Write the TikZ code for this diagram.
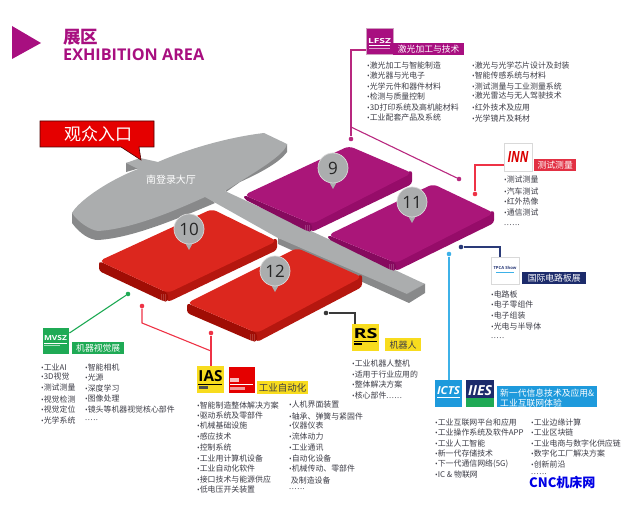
\documentclass[tikz,border=0pt]{standalone}
\usepackage{fontspec}
\usepackage{graphicx}
\setmainfont{Noto Sans CJK SC}
\newfontfamily\latinf{Open Sans}
\usetikzlibrary{calc}
\definecolor{mag}{HTML}{A80F80}
\definecolor{pur}{HTML}{AA1679}
\definecolor{purL}{HTML}{860A5E}
\definecolor{purR}{HTML}{960C69}
\definecolor{redT}{HTML}{DC271E}
\definecolor{redL}{HTML}{A00D05}
\definecolor{redR}{HTML}{B5170F}
\definecolor{grayT}{HTML}{ABADAE}
\definecolor{grayS}{HTML}{88898A}
\definecolor{txt}{HTML}{3C3C46}
\definecolor{conPur}{HTML}{B8287F}
\definecolor{conRed}{HTML}{EE3346}
\definecolor{conNavy}{HTML}{2A3A78}
\definecolor{bandNavy}{HTML}{1C2B6B}
\definecolor{conBlue}{HTML}{3DB1E8}
\definecolor{bandBlue}{HTML}{1E9ADC}
\definecolor{conGreen}{HTML}{1FAA55}
\definecolor{conDark}{HTML}{3A3A3A}
\definecolor{yel}{HTML}{F8DC1E}
\tikzset{
  listitem/.style={anchor=west,inner sep=0pt,font=\fontsize{7.9}{9}\selectfont,text=txt},
  band/.style={anchor=north west,inner sep=0pt,minimum height=12pt},
  bandtxt/.style={font=\fontsize{8.8}{10}\selectfont,text=white,inner sep=0pt},
  logobox/.style={anchor=north west,inner sep=0pt,minimum width=26.5pt,minimum height=26.5pt},
  logotxt/.style={inner sep=0pt,font=\latinf\bfseries},
  dotp/.style={circle,inner sep=0pt,minimum size=4.6pt,fill=#1},
  con/.style={line width=1.1pt,draw=#1},
  pin/.style={circle,fill=grayT,draw=#1,line width=.7pt,minimum size=30pt,inner sep=0pt,text=black!85,font=\latinf\fontsize{17}{18}\selectfont}
}
\newcommand{\bul}{{\latinf\fontsize{7}{8}\selectfont •}}
\newcommand{\fivedots}{{\latinf .\kern.6pt.\kern.6pt.\kern.6pt.\kern.6pt.}}
\newcommand{\sixdots}{{\latinf .\kern.6pt.\kern.6pt.\kern.6pt.\kern.6pt.\kern.6pt.}}
\newcommand{\rows}[3]{\foreach \yy/\tx [count=\ii] in {#3}{\node[listitem] (#1-\ii) at (#2,\yy) {\tx};}}
\newcommand{\slab}[9]{%
  \path (#1) coordinate (L) (#2) coordinate (T) (#3) coordinate (R) (#4) coordinate (B);
  \fill[\slabR,rounded corners=3pt] ($(B)+(-6,-3)$) -- ($(B)+(0,#6)$) -- ($(R)+(0,#7)$) -- ($(R)+(0,-3)$) -- cycle;
  \fill[#9,rounded corners=3pt] ($(L)+(0,0)$) -- ($(L)+(0,#5)$) -- ($(B)+(-5,{#6-1})$) -- ($(B)+(0,#6)$) -- (B) -- cycle;
  \foreach \dx in {-7,-5,-3}{\draw[white,opacity=.18,line width=.5pt] ($(B)+(\dx,1)$) -- ($(B)+(\dx,{#6+.3*\dx})$);}
  \fill[#8,rounded corners=5pt] (L) -- (T) -- (R) -- (B) -- cycle;
}
\begin{document}
\begin{tikzpicture}[x=1pt,y=-1pt]
\useasboundingbox (0,0) rectangle (633,511);
% header
\fill[mag] (12,26) -- (41,43) -- (12,59) -- cycle;
\node[anchor=west,inner sep=0pt,text=mag,font=\bfseries\fontsize{17.5}{18}\selectfont] (hZh) at (63,37) {展区};
\node[anchor=west,inner sep=0pt,text=mag,font=\latinf\bfseries\fontsize{16.2}{17}\selectfont] (hEn) at (63,55) {EXHIBITION AREA};

% grey hall sides
\fill[grayS] (72,213) -- (72,223) .. controls (80,234) and (90,240) .. (98,240) .. controls (130,238) and (170,222) .. (215,203) -- (205,195) -- cycle;
\fill[grayS] (287,144) -- (287,152) .. controls (280,162) and (262,172) .. (240,182) -- (226,192) -- (225,180) -- cycle;
\fill[grayS] (126,163) -- (126,172) -- (140,168) -- (145,160) -- cycle;
% corridor side
\fill[grayS] (278,238) -- (278,244) -- (409,303) -- (425,293) -- (425,284) -- cycle;
% grey top face
\fill[grayT] (126,163) -- (140,158) -- (158,162) .. controls (190,148) and (230,137) .. (264,133) -- (287,144)
  .. controls (285,155) and (255,172) .. (225,191) -- (425,284) -- (407,294) -- (278,238) -- (205,197)
  .. controls (170,213) and (130,229) .. (98,231) .. controls (90,230) and (78,222) .. (72,213)
  .. controls (78,202) and (105,182) .. (138,169) -- cycle;
\draw[grayS,opacity=.5,line width=.4pt] (407,294) -- (425,284);

% blocks
\def\slabR{purR}
\slab{244,195}{349,146}{412,173}{312,224}{4}{8}{11}{pur}{purL}
\slab{328,235}{433,184}{494,213}{396,263}{4}{8}{10}{pur}{purL}
\def\slabR{redR}
\slab{99,261}{212,209}{277,241}{168,293}{10}{9}{9}{redT}{redL}
\slab{187,303}{297,248}{362,277}{257,333}{10}{9}{10}{redT}{redL}

% entrance label
\draw[draw=black!70!red,fill=red!90!black,line width=.6pt] (40,121) -- (154,121) -- (154,147) -- (139,147) -- (141,160) -- (121,147) -- (40,147) -- cycle;
\node[inner sep=0pt,text=white,font=\fontsize{17}{18}\selectfont] (entry) at (98,134) {观众入口};
\node[inner sep=0pt,text=white,font=\fontsize{10}{11}\selectfont] (hall) at (171,179.5) {南登录大厅};

% pins
\foreach \n/\x/\y/\tx in {p9/333/168/9,p11/412/202/11,p10/189/229/10,p12/275/271/12}{
  \fill[grayT] (\x-5,\y+12) -- (\x,\y+21) -- (\x+5,\y+12) -- cycle;
  \node[pin=white!85!black] (\n) at (\x,\y) {\tx};
}

% LFSZ
\node[logobox,fill=mag,draw=purL!40!white] (lfsz) at (366,28) {};
\node[logotxt,text=white] (lfszT) at (379.5,41) {\resizebox{23pt}{5pt}{LFSZ}};
\draw[white,line width=.7pt] (369,45.5) -- (390,45.5);
\draw[white,opacity=.6,line width=.5pt] (369,48.5) -- (390,48.5);
\node[band,fill=mag,minimum width=71pt,bandtxt] (lfszB) at (393,43) {激光加工与技术};
\rows{a}{367}{65/\bul{}激光加工与智能制造,75/\bul{}激光器与光电子,86/\bul{}光学元件和器件材料,96/\bul{}检测与质量控制,107/\bul{}3D打印系统及高机能材料,118/\bul{}工业配套产品及系统}
\rows{b}{472}{65/\bul{}激光与光学芯片设计及封装,75/\bul{}智能传感系统与材料,86/\bul{}测试测量与工业测量系统,96/\bul{}激光雷达与无人驾驶技术,107/\bul{}红外技术及应用,118/\bul{}光学镜片及耗材}
\node[dotp=conPur] (dA) at (351,139) {};
\node[dotp=conPur] (dB) at (459,179) {};
\coordinate (jA) at (351,127);
\draw[con=conPur] (lfsz.west |- 0,50) -- (351,50) -- (dA);
\draw[con=conPur] (jA) -- (dB);

% INN
\node[logobox,fill=white,draw=black!15,line width=1pt,minimum width=28pt,minimum height=28pt] (inn) at (504,143) {};
\node[logotxt,text=red!85!black,font=\latinf\bfseries\itshape] (innT) at (518,157) {\resizebox{21pt}{11pt}{INN}};
\node[band,fill=conRed!95!black,minimum width=42pt,bandtxt] (innB) at (534,159) {测试测量};
\rows{c}{504}{180/\bul{}测试测量,191/\bul{}汽车测试,202/\bul{}红外热像,213/\bul{}通信测试,225/\sixdots}
\node[dotp=conRed] (dC) at (475,194) {};
\draw[con=conRed] (inn.west |- 0,165) -- (475,165) -- (dC);

% TPCA
\node[logobox,fill=white,draw=black!15,line width=1pt,minimum width=28pt,minimum height=27pt] (tpca) at (491,257) {};
\node[logotxt,text=conNavy,font=\latinf\bfseries\fontsize{4.2}{5}\selectfont] (tpcaT) at (505,268) {TPCA Show};
\draw[conBlue,line width=.6pt] (496,272) -- (514,272);
\node[band,fill=bandNavy,minimum width=64pt,bandtxt] (tpcaB) at (522,272) {国际电路板展};
\rows{d}{491}{295/\bul{}电路板,305/\bul{}电子零组件,316/\bul{}电子组装,326/\bul{}光电与半导体,338/\fivedots}
\node[dotp=conNavy] (dD) at (461,247) {};
\draw[con=conNavy] (dD) -- (500,247) -- (tpca.north -| 500,0);

% ICTS / IIES
\node[logobox,fill=bandBlue,minimum width=27pt,minimum height=27pt] (icts) at (435,380) {};
\node[logotxt,text=white,font=\latinf\bfseries\itshape] (ictsT) at (448.5,391) {\resizebox{23pt}{8pt}{ICTS}};
\draw[white,line width=.6pt] (437,397) -- (460,397);
\node[logobox,fill=bandNavy,minimum width=28pt,minimum height=27pt] (iies) at (466,380) {};
\fill[conGreen] (466,398) rectangle (494,407);
\node[logotxt,text=white,font=\latinf\bfseries\itshape] (iiesT) at (480,391) {\resizebox{24pt}{10pt}{IIES}};
\node[band,fill=bandBlue,minimum width=100pt,minimum height=21pt] (icB) at (497,386) {};
\node[bandtxt,anchor=west] (icB1) at (500,393) {新一代信息技术及应用\&};
\node[bandtxt,anchor=west] (icB2) at (500,403) {工业互联网体验};
\rows{e}{435}{422/\bul{}工业互联网平台和应用,432/\bul{}工业操作系统及软件APP,443/\bul{}工业人工智能,453/\bul{}新一代存储技术,464/\bul{}下一代通信网络(5G),475/\bul{}IC \& 物联网}
\rows{f}{531}{422/\bul{}工业边缘计算,432/\bul{}工业区块链,443/\bul{}工业电商与数字化供应链,453/\bul{}数字化工厂解决方案,464/\bul{}创新前沿,474/\sixdots}
\node[dotp=conBlue] (dE) at (449,254) {};
\draw[con=conBlue,line width=1.2pt] (dE) -- (icts.north -| 449,0);
\node[anchor=west,inner sep=0pt,text=blue!90!black,font=\bfseries\fontsize{13}{14}\selectfont] (cnc) at (529,482) {CNC机床网};

% RS
\node[logobox,fill=yel,minimum width=27pt,minimum height=27pt] (rs) at (352,324) {};
\node[logotxt,text=black,font=\latinf\bfseries] (rsT) at (365.5,334) {\resizebox{24pt}{10pt}{RS}};
\draw[black,line width=.7pt] (354,341) -- (377,341);
\fill[black] (354,343) rectangle (362,345);
\node[band,fill=yel,minimum width=36pt,minimum height=13pt,font=\fontsize{9}{10}\selectfont,text=txt,inner sep=0pt] (rsB) at (385,338) {机器人};
\rows{g}{352}{363/\bul{}工业机器人整机,374/\bul{}适用于行业应用的,384/\bul{}整体解决方案,395/\bul{}核心部件\sixdots}
\node[dotp=conDark] (dF) at (326,313) {};
\draw[con=conDark] (dF) -- (355,313) -- (rs.north -| 355,0);

% IAS + red logo
\node[logobox,fill=yel,minimum width=27pt,minimum height=27pt] (ias) at (197,366) {};
\node[logotxt,text=black,font=\latinf\bfseries] (iasT) at (210.5,376.5) {\resizebox{24pt}{11pt}{IAS}};
\draw[black,line width=.7pt] (198,384) -- (222,384);
\fill[black!70] (199,386) rectangle (208,389);
\node[logobox,fill=red!90!black,draw=white,minimum width=27pt,minimum height=27pt] (rlogo) at (228,366) {};
\fill[white,opacity=.75] (230,378) rectangle (239,382);
\draw[white,line width=.6pt] (230,384) -- (253,384);
\fill[white,opacity=.6] (230,386.5) rectangle (245,389.5);
\node[band,fill=yel,minimum width=51pt,minimum height=13pt,font=\fontsize{9.5}{10}\selectfont,text=txt,inner sep=0pt] (iasB) at (257,381) {工业自动化};
\rows{h}{197}{405/\bul{}智能制造整体解决方案,416/\bul{}驱动系统及零部件,426/\bul{}机械基础设施,436/\bul{}感应技术,447/\bul{}控制系统,458/\bul{}工业用计算机设备,468/\bul{}工业自动化软件,479/\bul{}接口技术与能源供应,490/\bul{}低电压开关装置}
\rows{i}{289}{405/\bul{}人机界面装置,416/\bul{}轴承、弹簧与紧固件,426/\bul{}仪器仪表,437/\bul{}流体动力,448/\bul{}工业通讯,458/\bul{}自动化设备,469/\bul{}机械传动、零部件,480/\ 及制造设备,489/\sixdots}
\node[dotp=conRed] (dG) at (142,306) {};
\node[dotp=conRed] (dH) at (211,333) {};
\coordinate (jB) at (211,351);
\draw[con=conRed] (dG) -- (142,323) -- (jB);
\draw[con=conRed] (dH) -- (ias.north -| 211,0);

% MVSZ
\node[logobox,fill=conGreen,draw=white,minimum width=27pt,minimum height=27pt] (mvsz) at (42,327) {};
\node[logotxt,text=white] (mvszT) at (55.5,338.5) {\resizebox{23pt}{5pt}{MVSZ}};
\draw[white,line width=.6pt] (44,343) -- (67,343);
\draw[white,opacity=.6,line width=.6pt] (44,345.5) -- (60,345.5);
\node[band,fill=conGreen,minimum width=52pt,bandtxt] (mvszB) at (72,342) {机器视觉展};
\rows{j}{41}{367/\bul{}工业AI,377/\bul{}3D视觉,388/\bul{}测试测量,399/\bul{}视觉检测,409/\bul{}视觉定位,420/\bul{}光学系统}
\rows{k}{85}{367/\bul{}智能相机,377/\bul{}光源,388/\bul{}深度学习,399/\bul{}图像处理,409/\bul{}镜头等机器视觉核心部件,420/\fivedots}
\node[dotp=conGreen] (dJ) at (128,294) {};
\draw[con=conGreen] (dJ) -- (mvsz.east |- 0,333);
\end{tikzpicture}
\end{document}
